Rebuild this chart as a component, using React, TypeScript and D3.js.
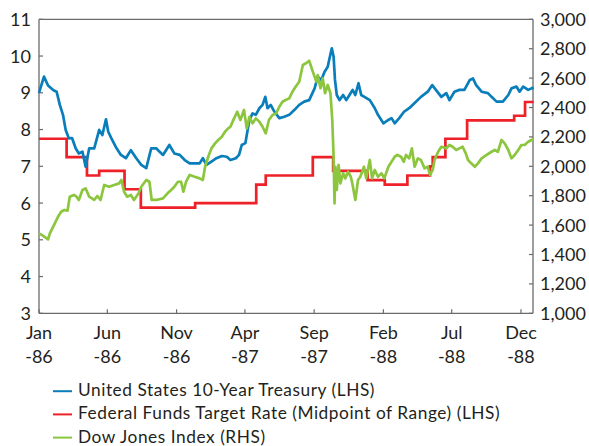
import React from "react";
import * as d3 from "d3";

// ---- Data ----
const treasuryDates = [
  "1986-01-01","1986-01-12","1986-01-21","1986-02-02","1986-02-09","1986-02-16","1986-02-23","1986-03-01","1986-03-08","1986-03-15",
  "1986-03-23","1986-03-30","1986-04-07","1986-04-14","1986-04-22","1986-05-03","1986-05-14","1986-05-21","1986-05-29","1986-06-03",
  "1986-06-10","1986-06-20","1986-07-01","1986-07-12","1986-07-23","1986-08-04","1986-08-15","1986-08-26","1986-09-06","1986-09-17",
  "1986-09-24","1986-10-02","1986-10-16","1986-10-27","1986-11-08","1986-11-19","1986-11-30","1986-12-11","1986-12-22","1986-12-29",
  "1987-01-06","1987-01-17","1987-01-28","1987-02-09","1987-02-20","1987-02-28","1987-03-12","1987-03-19","1987-03-25","1987-04-02",
  "1987-04-07","1987-04-11","1987-04-18","1987-04-25","1987-05-03","1987-05-10","1987-05-16","1987-05-21","1987-05-28","1987-06-05",
  "1987-06-16","1987-06-27","1987-07-08","1987-07-19","1987-07-30","1987-08-10","1987-08-21","1987-09-02","1987-09-09","1987-09-17",
  "1987-09-24","1987-10-01","1987-10-05","1987-10-10","1987-10-14","1987-10-17","1987-10-21","1987-10-27","1987-11-04","1987-11-11",
  "1987-11-18","1987-11-25","1987-12-01","1987-12-08","1987-12-14","1987-12-21","1988-01-02","1988-01-13","1988-01-20","1988-02-01",
  "1988-02-12","1988-02-19","1988-02-26","1988-03-07","1988-03-18","1988-03-29","1988-04-10","1988-04-24","1988-05-09","1988-05-19",
  "1988-05-27","1988-06-08","1988-06-19","1988-06-26","1988-07-07","1988-07-18","1988-07-29","1988-08-10","1988-08-17","1988-08-24",
  "1988-09-05","1988-09-19","1988-09-27","1988-10-08","1988-10-22","1988-11-03","1988-11-10","1988-11-21","1988-11-28","1988-12-06",
  "1988-12-17","1988-12-24","1988-12-29"
];
const treasuryValues = [
  9.0, 9.44, 9.2, 9.07, 9.03, 8.67, 8.4, 7.99, 7.76, 7.77,
  7.49, 7.35, 7.4, 6.99, 7.49, 7.49, 7.99, 7.85, 8.28, 7.94,
  7.76, 7.52, 7.31, 7.22, 7.44, 7.22, 7.04, 6.95, 7.49, 7.49,
  7.4, 7.31, 7.58, 7.35, 7.31, 7.17, 7.08, 7.08, 7.08, 7.22,
  7.04, 7.13, 7.22, 7.28, 7.26, 7.17, 7.22, 7.31, 7.58, 7.63,
  7.99, 8.26, 8.44, 8.4, 8.58, 8.67, 8.89, 8.58, 8.67, 8.49,
  8.31, 8.35, 8.4, 8.53, 8.67, 8.76, 8.8, 9.12, 9.44, 9.35,
  9.57, 9.71, 9.94, 10.21, 9.98, 9.35, 8.94, 8.8, 8.94, 8.8,
  8.94, 9.08, 8.94, 9.26, 8.94, 8.89, 8.8, 8.58, 8.4, 8.17,
  8.26, 8.31, 8.17, 8.31, 8.49, 8.58, 8.72, 8.89, 9.03, 9.21,
  9.08, 8.89, 8.99, 8.8, 9.03, 9.08, 9.08, 9.35, 9.39, 9.21,
  9.03, 8.99, 8.89, 8.76, 8.76, 8.94, 9.12, 9.17, 9.03, 9.17,
  9.08, 9.12, 9.14
];

const fedDates = [
  "1986-01-01","1986-03-03","1986-04-17","1986-05-14","1986-07-09","1986-08-14","1986-12-12","1987-04-26","1987-05-17","1987-08-29",
  "1987-10-13","1987-12-28","1988-02-04","1988-03-25","1988-05-14","1988-05-20","1988-06-17","1988-08-04","1988-11-16","1988-12-10",
  "1988-12-29"
];
const fedValues = [
  7.75, 7.25, 6.75, 6.875, 6.375, 5.875, 6.0, 6.5, 6.75, 7.25,
  6.875, 6.625, 6.5, 6.75, 7.0, 7.25, 7.75, 8.25, 8.375, 8.75,
  8.75
];

const dowDates = [
  "1986-01-01","1986-01-07","1986-01-18","1986-01-21","1986-01-25","1986-02-05","1986-02-12","1986-02-19","1986-02-26","1986-03-05",
  "1986-03-10","1986-03-19","1986-03-25","1986-03-30","1986-04-07","1986-04-14","1986-04-22","1986-05-03","1986-05-10","1986-05-17",
  "1986-05-25","1986-06-05","1986-06-16","1986-06-27","1986-07-02","1986-07-08","1986-07-15","1986-07-23","1986-07-30","1986-08-09",
  "1986-08-15","1986-08-26","1986-09-02","1986-09-07","1986-09-17","1986-10-02","1986-10-12","1986-10-20","1986-10-27","1986-11-04",
  "1986-11-11","1986-11-16","1986-11-22","1986-11-30","1986-12-11","1986-12-22","1986-12-29","1987-01-03","1987-01-10","1987-01-17",
  "1987-01-25","1987-02-01","1987-02-09","1987-02-16","1987-02-23","1987-02-28","1987-03-08","1987-03-15","1987-03-22","1987-03-30",
  "1987-04-05","1987-04-11","1987-04-18","1987-04-25","1987-05-03","1987-05-10","1987-05-17","1987-05-24","1987-06-01","1987-06-09",
  "1987-06-16","1987-06-23","1987-06-30","1987-07-08","1987-07-15","1987-07-22","1987-07-30","1987-08-07","1987-08-14","1987-08-21",
  "1987-08-29","1987-09-06","1987-09-09","1987-09-15","1987-09-20","1987-09-25","1987-10-01","1987-10-07","1987-10-11","1987-10-14",
  "1987-10-16","1987-10-18","1987-10-21","1987-10-25","1987-10-29","1987-11-04","1987-11-09","1987-11-15","1987-11-21","1987-11-25",
  "1987-12-01","1987-12-07","1987-12-12","1987-12-20","1987-12-25","1988-01-02","1988-01-07","1988-01-13","1988-01-20","1988-01-28",
  "1988-02-03","1988-02-12","1988-02-19","1988-02-26","1988-03-03","1988-03-11","1988-03-17","1988-03-22","1988-03-29","1988-04-04",
  "1988-04-10","1988-04-17","1988-04-24","1988-05-02","1988-05-09","1988-05-14","1988-05-20","1988-05-24","1988-06-01","1988-06-08",
  "1988-06-19","1988-06-26","1988-07-03","1988-07-11","1988-07-18","1988-07-25","1988-08-01","1988-08-06","1988-08-13","1988-08-21",
  "1988-08-28","1988-09-05","1988-09-16","1988-09-27","1988-10-04","1988-10-11","1988-10-19","1988-10-26","1988-11-03","1988-11-10",
  "1988-11-17","1988-11-25","1988-12-02","1988-12-09","1988-12-17","1988-12-24","1988-12-29"
];
const dowValues = [
  1544, 1533, 1510, 1503, 1544, 1612, 1657, 1691, 1703, 1698,
  1793, 1805, 1793, 1771, 1839, 1850, 1793, 1771, 1798, 1771,
  1873, 1861, 1873, 1884, 1907, 1827, 1793, 1805, 1771, 1816,
  1861, 1907, 1895, 1771, 1771, 1782, 1816, 1839, 1861, 1895,
  1895, 1827, 1895, 1941, 1929, 1918, 1907, 1997, 2065, 2122,
  2156, 2179, 2201, 2235, 2258, 2269, 2326, 2371, 2315, 2383,
  2258, 2337, 2292, 2326, 2303, 2269, 2224, 2315, 2349, 2360,
  2405, 2439, 2451, 2462, 2507, 2541, 2575, 2689, 2701, 2718,
  2644, 2575, 2621, 2531, 2599, 2497, 2553, 2497, 2315, 2065,
  1748, 1997, 1839, 2009, 1884, 1952, 1918, 1963, 1929, 1873,
  1771, 1907, 1929, 1997, 1918, 2043, 1918, 1975, 1929, 1952,
  1918, 1997, 2031, 2065, 2077, 2065, 2031, 2077, 2054, 2122,
  1997, 2054, 2043, 1986, 1997, 1941, 1975, 2043, 2099, 2133,
  2122, 2145, 2133, 2111, 2122, 2133, 2088, 2043, 2020, 1997,
  2020, 2054, 2077, 2099, 2111, 2099, 2179, 2156, 2111, 2054,
  2077, 2111, 2145, 2145, 2167, 2179, 2185
];

const leftTicks = [3, 4, 5, 6, 7, 8, 9, 10, 11];
const rightTicks = [1000, 1200, 1400, 1600, 1800, 2000, 2200, 2400, 2600, 2800, 3000];
const xTickDates = ["1986-01-01", "1986-06-01", "1986-11-01", "1987-04-01", "1987-09-01", "1988-02-01", "1988-07-01", "1988-12-01"];
const xTickMonths = ["Jan", "Jun", "Nov", "Apr", "Sep", "Feb", "Jul", "Dec"];
const xTickYears = ["-86", "-86", "-86", "-87", "-87", "-88", "-88", "-88"];

const seriesNames = [
  "United States 10-Year Treasury (LHS)",
  "Federal Funds Target Rate (Midpoint of Range) (LHS)",
  "Dow Jones Index (RHS)",
];
const seriesColors = ["#0a7dbb", "#ee2028", "#8cc63f"];

// ---- Layout ----
const W = 589, H = 446;
const L = 39, R = 533, T = 19.3, B = 313.3;
const FONT = "Lato, 'Open Sans', sans-serif";
const TEXT = "#231f20";
const AXIS = "#6b6b6b";

const parse = d3.timeParse("%Y-%m-%d");

export default function App() {
  const x = d3.scaleTime().domain([parse("1986-01-01")!, parse("1989-01-01")!]).range([L, 535]);
  const yL = d3.scaleLinear().domain([3, 11]).range([B, T]);
  const yR = d3.scaleLinear().domain([1000, 3000]).range([B, T]);

  const tre = treasuryDates.map((d, i) => ({ d: parse(d)!, v: treasuryValues[i] }));
  const fed = fedDates.map((d, i) => ({ d: parse(d)!, v: fedValues[i] }));
  const dow = dowDates.map((d, i) => ({ d: parse(d)!, v: dowValues[i] }));

  const lineL = d3.line<{ d: Date; v: number }>().x((p) => x(p.d)).y((p) => yL(p.v));
  const stepL = d3.line<{ d: Date; v: number }>().x((p) => x(p.d)).y((p) => yL(p.v)).curve(d3.curveStepAfter);
  const lineR = d3.line<{ d: Date; v: number }>().x((p) => x(p.d)).y((p) => yR(p.v));

  const tickLen = 4;

  return (
    <svg width={W} height={H} style={{ position: "absolute", left: 0, top: 0, background: "#fff" }} fontFamily={FONT}>
      {/* frame */}
      <line x1={L} x2={R} y1={T} y2={T} stroke={AXIS} strokeWidth={1.3} />
      <line x1={L} x2={L} y1={T} y2={B} stroke={AXIS} strokeWidth={1.3} />
      <line x1={R} x2={R} y1={T} y2={B} stroke={AXIS} strokeWidth={1.3} />
      <line x1={L} x2={R} y1={B} y2={B} stroke={AXIS} strokeWidth={1.3} />

      {/* left ticks */}
      {leftTicks.map((t) => (
        <g key={"l" + t}>
          <line x1={L} x2={L + tickLen} y1={yL(t)} y2={yL(t)} stroke={AXIS} strokeWidth={1.2} />
          <text x={31} y={yL(t)} dy="0.36em" textAnchor="end" fontSize={18} fill={TEXT}>{t}</text>
        </g>
      ))}
      {/* right ticks */}
      {rightTicks.map((t) => (
        <g key={"r" + t}>
          <line x1={R - tickLen} x2={R} y1={yR(t)} y2={yR(t)} stroke={AXIS} strokeWidth={1.2} />
          <text x={540} y={yR(t)} dy="0.36em" textAnchor="start" fontSize={18} fill={TEXT}>{d3.format(",")(t)}</text>
        </g>
      ))}
      {/* x ticks */}
      {xTickDates.map((t, i) => {
        const px = x(parse(t)!);
        return (
          <g key={"x" + t}>
            <line x1={px} x2={px} y1={B} y2={B - tickLen} stroke={AXIS} strokeWidth={1.2} />
            <text x={px} y={339} textAnchor="middle" fontSize={18} fill={TEXT}>{xTickMonths[i]}</text>
            <text x={px} y={363} textAnchor="middle" fontSize={18} fill={TEXT}>{xTickYears[i]}</text>
          </g>
        );
      })}

      {/* series */}
      <path d={stepL(fed) || ""} fill="none" stroke={seriesColors[1]} strokeWidth={2.7} />
      <path d={lineL(tre) || ""} fill="none" stroke={seriesColors[0]} strokeWidth={2.7} strokeLinejoin="round" />
      <path d={lineR(dow) || ""} fill="none" stroke={seriesColors[2]} strokeWidth={2.7} strokeLinejoin="round" />

      {/* legend */}
      {seriesNames.map((n, i) => {
        const ly = 391.2 + i * 23.2;
        return (
          <g key={n}>
            <line x1={53} x2={72} y1={ly} y2={ly} stroke={seriesColors[i]} strokeWidth={2} />
            <text x={78} y={ly + 5} fontSize={17.3} letterSpacing={0.55} fill={TEXT}>{n}</text>
          </g>
        );
      })}
    </svg>
  );
}
